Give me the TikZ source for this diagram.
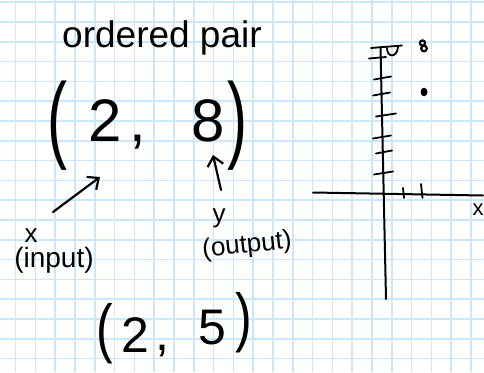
\documentclass[tikz,border=0pt]{standalone}
\usepackage{fontspec}
\setmainfont{Liberation Sans}
\usetikzlibrary{arrows.meta}
\newcommand{\fsz}[1]{\fontsize{#1}{#1}\selectfont}
\newcommand{\tallp}[2]{\scalebox{1}[#1]{#2}}
\definecolor{gridblue}{RGB}{204,231,250}
\begin{document}
\begin{tikzpicture}[x=1pt,y=-1pt,
  ink/.style={line width=2.2pt, line cap=round, line join=round},
  axisline/.style={line width=2pt, line cap=round},
  tickline/.style={line width=1.8pt, line cap=round},
  gridline/.style={gridblue, line width=1.6pt},
  txt/.style={inner sep=0pt, outer sep=0pt},
  pointer/.style={ink, -{Straight Barb[length=9pt,width=16pt]}}]
\fill[white] (0,0) rectangle (484,372);
\useasboundingbox (0,0) rectangle (484,372);
% grid paper
\foreach \i in {0,...,23} \draw[gridline] ({15.5+19.8*\i},0) -- ({15.5+19.8*\i},372);
\foreach \j in {0,...,18} \draw[gridline] (0,{2.1+19.8*\j}) -- (484,{2.1+19.8*\j});
% texts
\node[txt, anchor=base] (title) at (162,47) {\fsz{37}ordered pair};
\node[txt, anchor=base west] (pair1) at (47.8,150) {\fsz{60}\tallp{1.6}{(}\kern20.4pt\raisebox{9pt}{2\kern8pt, \kern29pt 8}\kern2pt\tallp{1.6}{)}};
\node[txt, anchor=base] (xlab) at (31,242) {\fsz{26}x};
\node[txt, anchor=base] (inlab) at (54,267) {\fsz{28}(input)};
\node[txt, anchor=base] (ylab) at (219,222) {\fsz{26}y};
\node[txt, rotate=6] (outlab) at (247,246) {\fsz{26}(output)};
\node[txt, anchor=base west] (pair2) at (96.5,350) {\fsz{50}\tallp{1.3}{(}\kern8.3pt\raisebox{-2pt}{2}\kern6pt, \kern15pt\raisebox{6pt}{5}\kern10pt\raisebox{11pt}{\tallp{1.3}{)}}};
\node[txt, anchor=base] (xaxlab) at (478,215) {\fsz{22}x};
% pointers
\coordinate (xa0) at (53,212);
\coordinate (xa1) at (100,177);
\draw[pointer] (xa0) -- (xa1);
\coordinate (ya0) at (221,190);
\coordinate (ya1) at (213,155);
\draw[pointer] (ya0) -- (ya1);
% axes
\coordinate (ytop) at (380.5,47);
\coordinate (ybot) at (386,299);
\coordinate (xleft) at (313,192.5);
\coordinate (xright) at (483,195.5);
\draw[axisline] (ytop) -- (ybot);
\draw[axisline] (xleft) -- (xright);
% y ticks
\draw[tickline] (371,48) -- (402,45.5);
\draw[tickline] (369,58.5) -- (386,57);
\draw[tickline] (387,48) .. controls (387,58) and (397,58) .. (398,47);
\foreach \yy/\xa/\xb in {78/374/391, 94/373/390, 115/376/396, 137/373/391, 152/376/392, 173/374/393}
  \draw[tickline] (\xa,\yy+1.5) -- (\xb,\yy-1.5);
% x ticks
\draw[tickline] (403,188) -- (404,198);
\draw[tickline] (421,184) -- (422.5,198);
% plotted points
\draw[line width=2.2pt] (422.5,43) circle (2.6);
\draw[line width=2.2pt] (424,48.5) circle (2.8);
\fill (424,92) ellipse [x radius=3.5, y radius=4.3];
\end{tikzpicture}
\end{document}
